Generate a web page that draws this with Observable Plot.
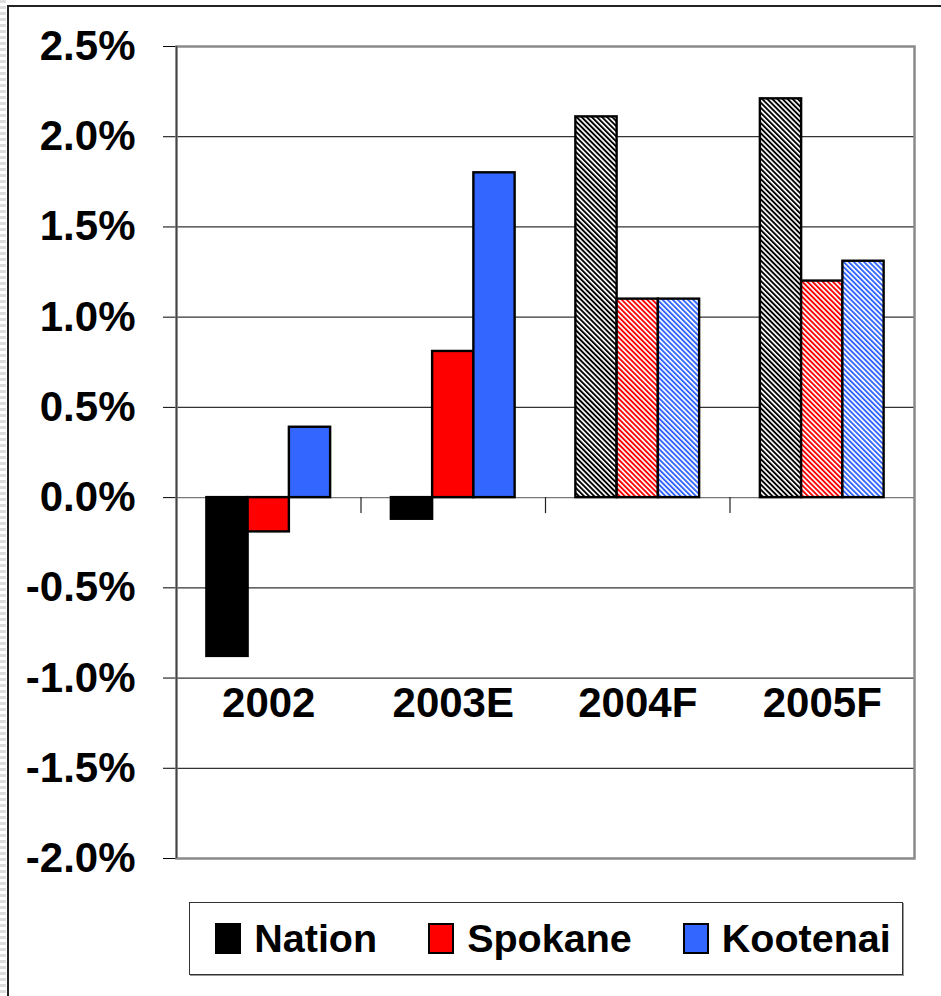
<!DOCTYPE html>
<html>
<head>
<meta charset="utf-8">
<script src="https://cdn.jsdelivr.net/npm/d3@7"></script>
<script src="https://cdn.jsdelivr.net/npm/@observablehq/plot@0.6"></script>
<style>
  html, body { margin: 0; padding: 0; background: #fff; }
  #wrap { position: relative; width: 941px; height: 996px; overflow: hidden; background: #fff;
          font-family: "Liberation Sans", Arial, sans-serif; }
  #page { position: absolute; left: 7px; top: 5px; width: 940px; height: 1000px;
          border-left: 2px solid #222; border-top: 2px solid #222; pointer-events: none; }
  #strip { position: absolute; left: 0; top: 0; width: 6px; height: 996px;
           background: repeating-linear-gradient(to bottom, #ddd 0 3px, #fff 3px 6px); }
  #chart { position: absolute; left: 0; top: 0; }
  #legend { position: absolute; left: 189px; top: 902px; width: 698px; height: 71px;
            border: 1px solid #333; box-shadow: 1px 1px 0 #999;
            display: flex; align-items: center; justify-content: center; gap: 51px;
            padding-left: 14px; box-sizing: content-box; background: #fff; }
  .item { display: flex; align-items: center; font-weight: bold; font-size: 39.5px; color: #000; }
  .sw { width: 22px; height: 27px; border: 2px solid #000; margin-right: 13px; }
</style>
</head>
<body>
<div id="wrap">
  <div id="strip"></div>
  <div id="page"></div>
  <div id="chart"></div>
  <div id="legend"></div>
</div>
<script>
// ---- data ----
const years = ["2002", "2003E", "2004F", "2005F"];
const forecast = [false, false, true, true];
const series = ["Nation", "Spokane", "Kootenai"];
const colors = ["#000000", "#FF0000", "#3366FF"];
const nation   = [-0.88, -0.12, 2.11, 2.21];
const spokane  = [-0.19, 0.81, 1.10, 1.20];
const kootenai = [0.39, 1.80, 1.10, 1.31];
const yTicks = [-2.0, -1.5, -1.0, -0.5, 0.0, 0.5, 1.0, 1.5, 2.0, 2.5];

const values = [nation, spokane, kootenai];
const rows = [];
years.forEach((yr, yi) => {
  series.forEach((s, si) => {
    rows.push({year: yr, yi, series: s, si, value: values[si][yi], forecast: forecast[yi]});
  });
});

const barW = 0.2236; // width of one bar in year-band units
const fillOf = d => d.forecast ? `url(#hatch-${d.si})` : colors[d.si];
const boundaries = d3.range(1, years.length).map(i => i - 0.5);
const gridLines = yTicks.filter(t => t > yTicks[0] && t < yTicks[yTicks.length - 1]);

const chart = Plot.plot({
  width: 941,
  height: 996,
  marginTop: 46,
  marginRight: 27,
  marginBottom: 138,
  marginLeft: 176,
  style: {fontFamily: "'Liberation Sans', Arial, sans-serif", fontWeight: "bold", fontSize: "42px", background: "transparent", color: "#000"},
  x: {domain: [-0.5, years.length - 0.5], axis: null},
  y: {domain: [yTicks[0], yTicks[yTicks.length - 1]], ticks: yTicks,
      tickFormat: d => d.toFixed(1) + "%", tickSize: 13, tickPadding: 28, label: null},
  color: {type: "identity"},
  marks: [
    Plot.ruleY(gridLines, {stroke: d => d === 0 ? "#777" : "#333", strokeWidth: 1.2}),
    Plot.frame({stroke: "#8a8a8a", strokeWidth: 2.5}),
    Plot.ruleX([-0.5], {stroke: "#444", strokeWidth: 1.5}),
    Plot.ruleX(boundaries, {y1: 0, y2: 0, insetBottom: -16, stroke: "#222", strokeWidth: 1.2}),
    Plot.rectY(rows, {
      x1: d => d.yi + (d.si - 1.5) * barW,
      x2: d => d.yi + (d.si - 0.5) * barW,
      y1: 0,
      y2: "value",
      fill: fillOf,
      stroke: "#000",
      strokeWidth: 2.4
    }),
    Plot.text(years, {x: (d, i) => i, y: 0, text: d => d, dy: 206, lineAnchor: "middle",
      fontSize: 42, fontWeight: "bold", fill: "#000"})
  ]
});

// hatch patterns for forecast bars
const svgNS = "http://www.w3.org/2000/svg";
const defs = document.createElementNS(svgNS, "defs");
colors.forEach((c, i) => {
  const p = document.createElementNS(svgNS, "pattern");
  p.setAttribute("id", `hatch-${i}`);
  p.setAttribute("patternUnits", "userSpaceOnUse");
  p.setAttribute("width", "3.6");
  p.setAttribute("height", "3.6");
  p.setAttribute("patternTransform", "rotate(-45)");
  const bg = document.createElementNS(svgNS, "rect");
  bg.setAttribute("width", "3.6"); bg.setAttribute("height", "3.6"); bg.setAttribute("fill", "#fff");
  const st = document.createElementNS(svgNS, "rect");
  st.setAttribute("width", "1.9"); st.setAttribute("height", "3.6"); st.setAttribute("fill", c);
  p.appendChild(bg); p.appendChild(st);
  defs.appendChild(p);
});
chart.insertBefore(defs, chart.firstChild);
document.getElementById("chart").appendChild(chart);

// legend
const legend = document.getElementById("legend");
series.forEach((s, i) => {
  const item = document.createElement("div");
  item.className = "item";
  const sw = document.createElement("div");
  sw.className = "sw";
  sw.style.background = colors[i];
  const lab = document.createElement("span");
  lab.textContent = s;
  item.appendChild(sw); item.appendChild(lab);
  legend.appendChild(item);
});
</script>
</body>
</html>
